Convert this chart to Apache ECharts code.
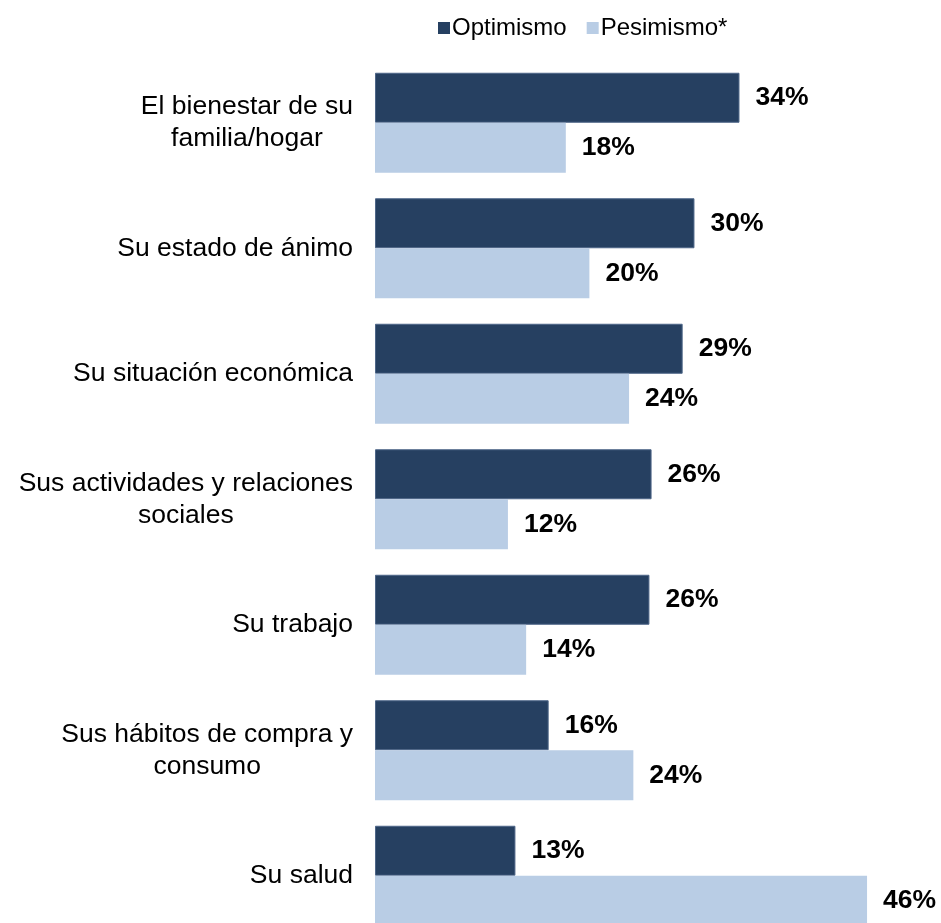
<!DOCTYPE html>
<html>
<head>
<meta charset="utf-8">
<script src="https://cdn.jsdelivr.net/npm/echarts@6/dist/echarts.min.js"></script>
<style>
html,body{margin:0;padding:0;background:#fff;overflow:hidden;}
#chart{width:941px;height:960px;}
</style>
</head>
<body>
<div id="chart"></div>
<script>
const categories = [
  "El bienestar de su\nfamilia/hogar",
  "Su estado de ánimo",
  "Su situación económica",
  "Sus actividades y relaciones\nsociales",
  "Su trabajo",
  "Sus hábitos de compra y\nconsumo",
  "Su salud"
];
const seriesNames = ["Optimismo", "Pesimismo*"];
const optimismo = [34.0, 29.8, 28.7, 25.8, 25.6, 16.2, 13.1];
const pesimismo = [17.8, 20.0, 23.7, 12.4, 14.1, 24.1, 45.9];

const FONT = "'Liberation Sans', Arial, sans-serif";
const chart = echarts.init(document.getElementById('chart'));
const labelStyle = {
  show: true,
  position: 'right',
  distance: 16,
  formatter: p => Math.round(p.value) + '%',
  fontFamily: FONT,
  fontSize: 26.5,
  fontWeight: 'bold',
  color: '#000'
};
chart.setOption({
  backgroundColor: '#fff',
  animation: false,
  legend: {
    top: 11,
    left: 433,
    itemWidth: 12,
    itemHeight: 12,
    itemGap: 20,
    icon: 'rect',
    itemStyle: { borderWidth: 0 },
    textStyle: { fontFamily: FONT, fontSize: 24, color: '#000', padding: [0, 0, 0, -3] },
    data: seriesNames
  },
  grid: { left: 375, top: 60, width: 536, height: 878.5, containLabel: false },
  xAxis: {
    type: 'value', min: 0, max: 50, show: false
  },
  yAxis: {
    type: 'category',
    inverse: true,
    data: categories,
    axisLine: { show: false },
    axisTick: { show: false },
    splitLine: { show: false },
    axisLabel: {
      margin: 22,
      align: 'right',
      formatter: v => v.split('\n').map(s => '{c|' + s + '}').join('\n'),
      rich: {
        c: { fontFamily: FONT, fontSize: 26.5, color: '#000', align: 'center', lineHeight: 32 }
      }
    }
  },
  series: [
    {
      name: seriesNames[0], type: 'bar', data: optimismo, barWidth: 50, barGap: '0%',
      itemStyle: { color: '#264061', borderColor: '#4e6688', borderWidth: 1 },
      label: labelStyle
    },
    {
      name: seriesNames[1], type: 'bar', data: pesimismo, barWidth: 50, barGap: '0%',
      itemStyle: { color: '#B9CDE5' },
      label: labelStyle
    }
  ]
});
</script>
</body>
</html>
